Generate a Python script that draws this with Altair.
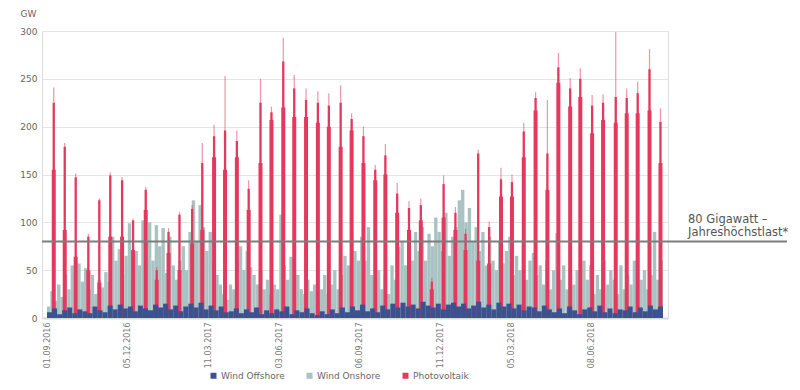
import altair as alt
import pandas as pd

# ---------------- data ----------------
period_days = 730  # 01.09.2016 .. 31.08.2018
tick_days = [0, 95, 191, 275, 370, 466, 550, 645]
tick_labels = ["01.09.2016", "05.12.2016", "11.03.2017", "03.06.2017",
               "06.09.2017", "11.12.2017", "05.03.2018", "08.06.2018"]
y_ticks = [0, 50, 100, 150, 200, 250, 300]
series_names = ["Wind Offshore", "Wind Onshore", "Photovoltaik"]
series_colors = ["#3d5191", "#a8c3c2", "#e5385f"]
threshold = [80]

onshore = [12, 28, 18, 35, 22,
           45, 30, 55, 40, 57, 38,
           52, 30, 45, 25, 40, 32,
           48, 38, 85, 60, 72, 45,
           65, 99, 40, 70, 55, 102,
           80, 100, 60, 97, 75,
           94, 47, 85, 55, 40, 60,
           75, 50, 90, 123, 80, 118,
           95, 70, 90, 60, 45, 35,
           25, 19, 35, 30, 60, 75,
           50, 70, 53, 45, 35, 50,
           30, 40, 25, 35, 30,
           108, 55, 40, 64, 35, 45,
           30, 25, 40, 28, 35, 20,
           30, 45, 25, 35, 50, 30,
           45, 65, 55, 89, 70, 60,
           85, 60, 95, 45, 35, 50,
           30, 45, 25, 55, 40,
           74, 80, 55, 85, 60, 90,
           70, 95, 60, 88, 75, 105,
           90, 70, 110, 65, 85, 95,
           123, 134, 100, 115, 80, 95,
           70, 90, 55, 85, 60, 50,
           80, 57, 70, 85, 45, 65,
           50, 75, 40, 60, 68,
           45, 55, 35, 60, 30, 50,
           89, 40, 55, 30, 45, 35,
           50, 30, 60, 40, 55, 25,
           45, 30, 60, 35, 50,
           40, 25, 55, 30, 45, 35,
           60, 95, 40, 50, 30, 45,
           90, 40, 60]

offshore = [6, 10, 4, 8, 11, 5, 9, 7, 5, 12, 8, 6, 13, 9, 14, 10,
            12, 7, 13, 10, 8, 14, 11, 15, 9, 13, 7, 12, 15, 11, 16, 9,
            13, 8, 12, 6, 7, 10, 5, 9, 6, 11, 4, 8, 5, 9, 7, 12,
            4, 8, 6, 10, 5, 3, 7, 4, 9, 5, 11, 6, 12, 8, 14, 7,
            10, 6, 13, 9, 15, 11, 16, 12, 14, 10, 17, 13, 11, 15, 9, 14,
            16, 12, 15, 10, 13, 17, 11, 14, 9, 16, 12, 15, 10, 14, 8, 12,
            11, 7, 13, 9, 6, 10, 5, 12, 8, 4, 9, 11, 7, 13, 6, 10,
            5, 9, 8, 12, 6, 11, 7, 13, 9, 12]

pv_day = [8, 21, 34, 49, 62, 75, 89, 102, 117, 130,
          144, 157, 172, 184, 198, 211, 225, 239, 253, 266,
          280, 293, 307, 321, 334, 348, 361, 375, 389, 401,
          415, 429, 443, 456, 470, 484, 496, 511, 524, 538,
          551, 565, 579, 593, 606, 620, 632, 646, 659, 674,
          687, 700, 714, 727]
pv_peak = [241, 183, 151, 88, 125, 152, 147, 104, 137, 53,
           94, 111, 118, 183, 202, 253, 196, 144, 250, 221,
           293, 254, 240, 237, 235, 243, 214, 200, 160, 182,
           141, 122, 125, 42, 149, 116, 93, 176, 101, 157,
           150, 204, 236, 228, 277, 251, 261, 233, 234, 299,
           240, 247, 281, 219]
pv_upper = [225, 179, 147, 85, 123, 149, 144, 102, 134, 50,
            90, 108, 114, 162, 190, 196, 185, 135, 225, 215,
            268, 240, 228, 225, 222, 225, 208, 190, 155, 170,
            130, 115, 118, 38, 140, 110, 88, 172, 95, 145,
            142, 195, 230, 172, 262, 240, 250, 222, 225, 231,
            230, 235, 260, 205]
pv_wide = [155, 92, 64, 50, 37, 85, 85, 71, 113, 40,
           68, 50, 78, 92, 168, 155, 168, 113, 162, 207,
           220, 210, 210, 204, 200, 179, 196, 162, 144, 150,
           110, 92, 102, 30, 105, 92, 71, 60, 57, 127,
           127, 168, 217, 134, 246, 221, 231, 193, 207, 204,
           214, 214, 217, 162]

# ---------------- tables ----------------
def binned(values, name):
    step = period_days / len(values)
    return pd.DataFrame({
        "day": [i * step for i in range(len(values))],
        "day_end": [(i + 1) * step for i in range(len(values))],
        "v": values,
        "series": name,
    })

df_on = binned(onshore, "Wind Onshore")
df_off = binned(offshore, "Wind Offshore")
df_pv = pd.DataFrame({"day": pv_day, "peak": pv_peak, "upper": pv_upper,
                      "wide": pv_wide, "series": "Photovoltaik"})

# ---------------- encodings ----------------
lab_expr = "".join(f"datum.value == {d} ? '{l}' : " for d, l in zip(tick_days, tick_labels)) + "''"

x_axis = alt.Axis(values=tick_days, labelExpr=lab_expr, labelAngle=270,
                  ticks=False, grid=False, domainColor="#d8d8d8", domainWidth=2,
                  labelFontSize=8, labelColor="#777777", labelPadding=4, title=None)
x_scale = alt.Scale(domain=[0, period_days], nice=False, zero=False)

y_axis = alt.Axis(values=y_ticks, grid=True, gridColor="#e4e4e4", domain=False,
                  ticks=False, labelFontSize=9, labelColor="#666666", labelPadding=5,
                  title="GW", titleAngle=0, titleAlign="left", titleBaseline="alphabetic",
                  titleX=-22, titleY=-15, titleFontSize=9, titleFontWeight="normal",
                  titleColor="#666666")
y_scale = alt.Scale(domain=[0, 300], nice=False)

color = alt.Color("series:N",
                  scale=alt.Scale(domain=series_names, range=series_colors),
                  legend=alt.Legend(orient="none", legendX=167, legendY=340,
                                    direction="horizontal", title=None,
                                    symbolType="square", symbolSize=36,
                                    symbolStrokeWidth=0, symbolOpacity=1,
                                    labelFontSize=9, labelColor="#666666",
                                    labelOffset=3, columnPadding=20, padding=0))


def yenc(field):
    return alt.Y(f"{field}:Q", scale=y_scale, axis=y_axis, stack=None)


def xenc():
    return alt.X("day:Q", scale=x_scale, axis=x_axis)


on_layer = alt.Chart(df_on).mark_rect().encode(
    x=xenc(), x2="day_end:Q", y=yenc("v"), y2=alt.datum(0), color=color)

pv_thin = alt.Chart(df_pv).mark_bar(size=1.2, opacity=0.55).encode(
    x=xenc(), y=yenc("peak"), color=color)
pv_mid = alt.Chart(df_pv).mark_bar(size=2.3).encode(
    x=xenc(), y=yenc("upper"), color=color)
pv_wide_layer = alt.Chart(df_pv).mark_bar(size=4.0).encode(
    x=xenc(), y=yenc("wide"), color=color)

off_layer = alt.Chart(df_off).mark_rect().encode(
    x=xenc(), x2="day_end:Q", y=yenc("v"), y2=alt.datum(0), color=color)

rule80 = alt.Chart(pd.DataFrame({"v": threshold})).mark_rule(
    color="#7d7d7d", strokeWidth=2).encode(
    y=yenc("v"), x=alt.value(0), x2=alt.value(745))

label80 = alt.Chart(pd.DataFrame({"v": threshold})).mark_text(
    text=["80 Gigawatt –", "Jahreshöchstlast*"], align="left",
    baseline="alphabetic", fontSize=11.5, lineHeight=13, color="#555555").encode(
    x=alt.value(646), y=alt.value(192))

chart = alt.layer(on_layer, pv_thin, pv_mid, pv_wide_layer, off_layer, rule80, label80).properties(
    width=626, height=287,
    autosize=alt.AutoSizeParams(type="none"),
    padding={"left": 34, "top": 23, "right": 124, "bottom": 64},
).configure_view(stroke=None).configure(font="DejaVu Sans")

chart.save("out.html", embed_options={"renderer": "svg", "actions": False})
